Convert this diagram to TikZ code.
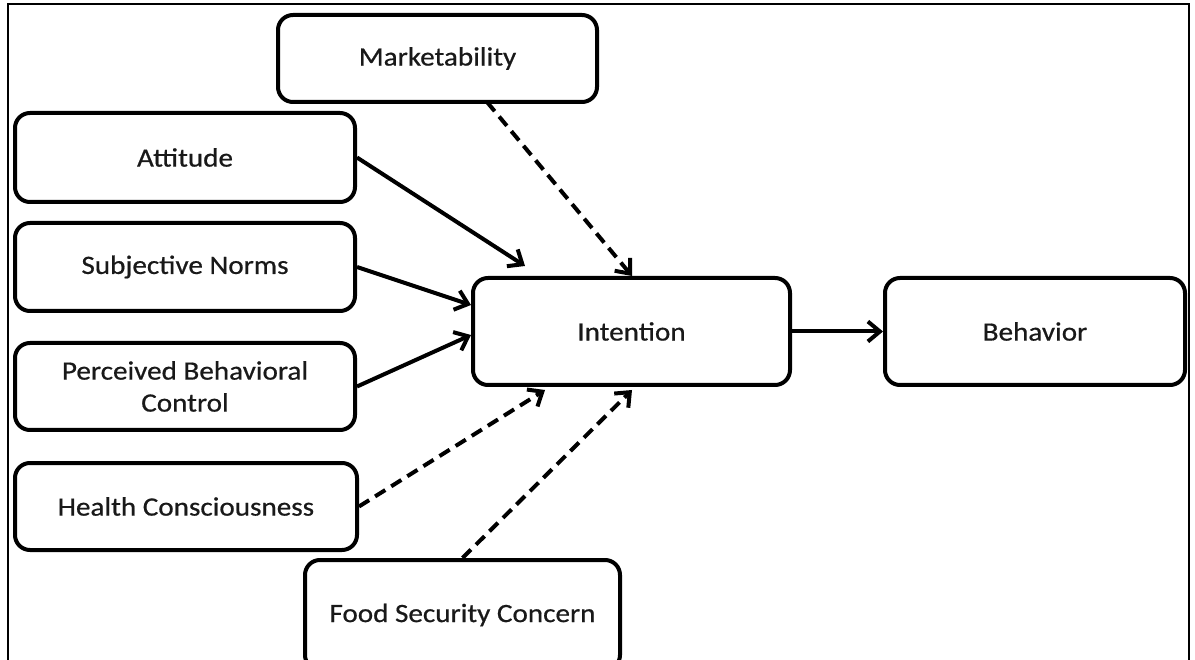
\documentclass[tikz,border=0pt]{standalone}
\usepackage{fontspec}
\setmainfont{Carlito}[FakeStretch=1.1, FakeBold=0.6]
\usetikzlibrary{arrows.meta}
\begin{document}
\begin{tikzpicture}[
        x=1pt, y=-1pt,
        caja/.style={draw, line width=4pt, rounded corners=15pt, align=center,
            font=\fontsize{26.5}{32}\selectfont, text=black!90},
        flecha/.style={line width=4pt, -{Straight Barb[length=12pt,width=20pt,line width=4pt]}},
        discont/.style={flecha, dash pattern=on 12pt off 7pt}
    ]
        \useasboundingbox (0,0) rectangle (1195,660);
        % Marco exterior
        \draw[line width=2.2pt] (8,660) -- (8,4) -- (1189,4) -- (1189,660);

        % Factores
        \node[caja, minimum width=319pt, minimum height=87pt] (mkt) at (437.5,58.5) {Marketability};
        \node[caja, minimum width=340pt, minimum height=89pt] (att) at (185,157.5) {Attitude};
        \node[caja, minimum width=340pt, minimum height=88pt] (sn) at (185,267) {Subjective Norms};
        \node[caja, minimum width=340pt, minimum height=87pt] (pbc) at (185,386.5) {Perceived Behavioral\\Control};
        \node[caja, minimum width=342pt, minimum height=87pt] (hc) at (186,506.5) {Health Consciousness};
        \node[caja, minimum width=315pt, minimum height=110pt] (fsc) at (462.5,615) {Food Security Concern};

        % Intencion y conducta
        \node[caja, minimum width=317pt, minimum height=107pt] (intent) at (631.5,331.5) {Intention};
        \node[caja, minimum width=300pt, minimum height=107pt] (beh) at (1035,331.5) {Behavior};

        % Puntos de llegada
        \coordinate (mktS) at (487,102);
        \coordinate (inA) at (525,266);
        \coordinate (inM) at (632,276);
        \coordinate (inS) at (471,305);
        \coordinate (inP) at (471,335);
        \coordinate (inH) at (545,390);
        \coordinate (inF) at (632,390);

        \draw[flecha] (att.east) -- (inA);
        \draw[flecha] (sn.east) -- (inS);
        \draw[flecha] (pbc.east) -- (inP);
        \draw[discont] (mktS) -- (inM);
        \draw[discont] (hc.east) -- (inH);
        \draw[discont] (fsc.north) -- (inF);
        \draw[flecha] (intent.east) -- (beh.west);
    \end{tikzpicture}
\end{document}
